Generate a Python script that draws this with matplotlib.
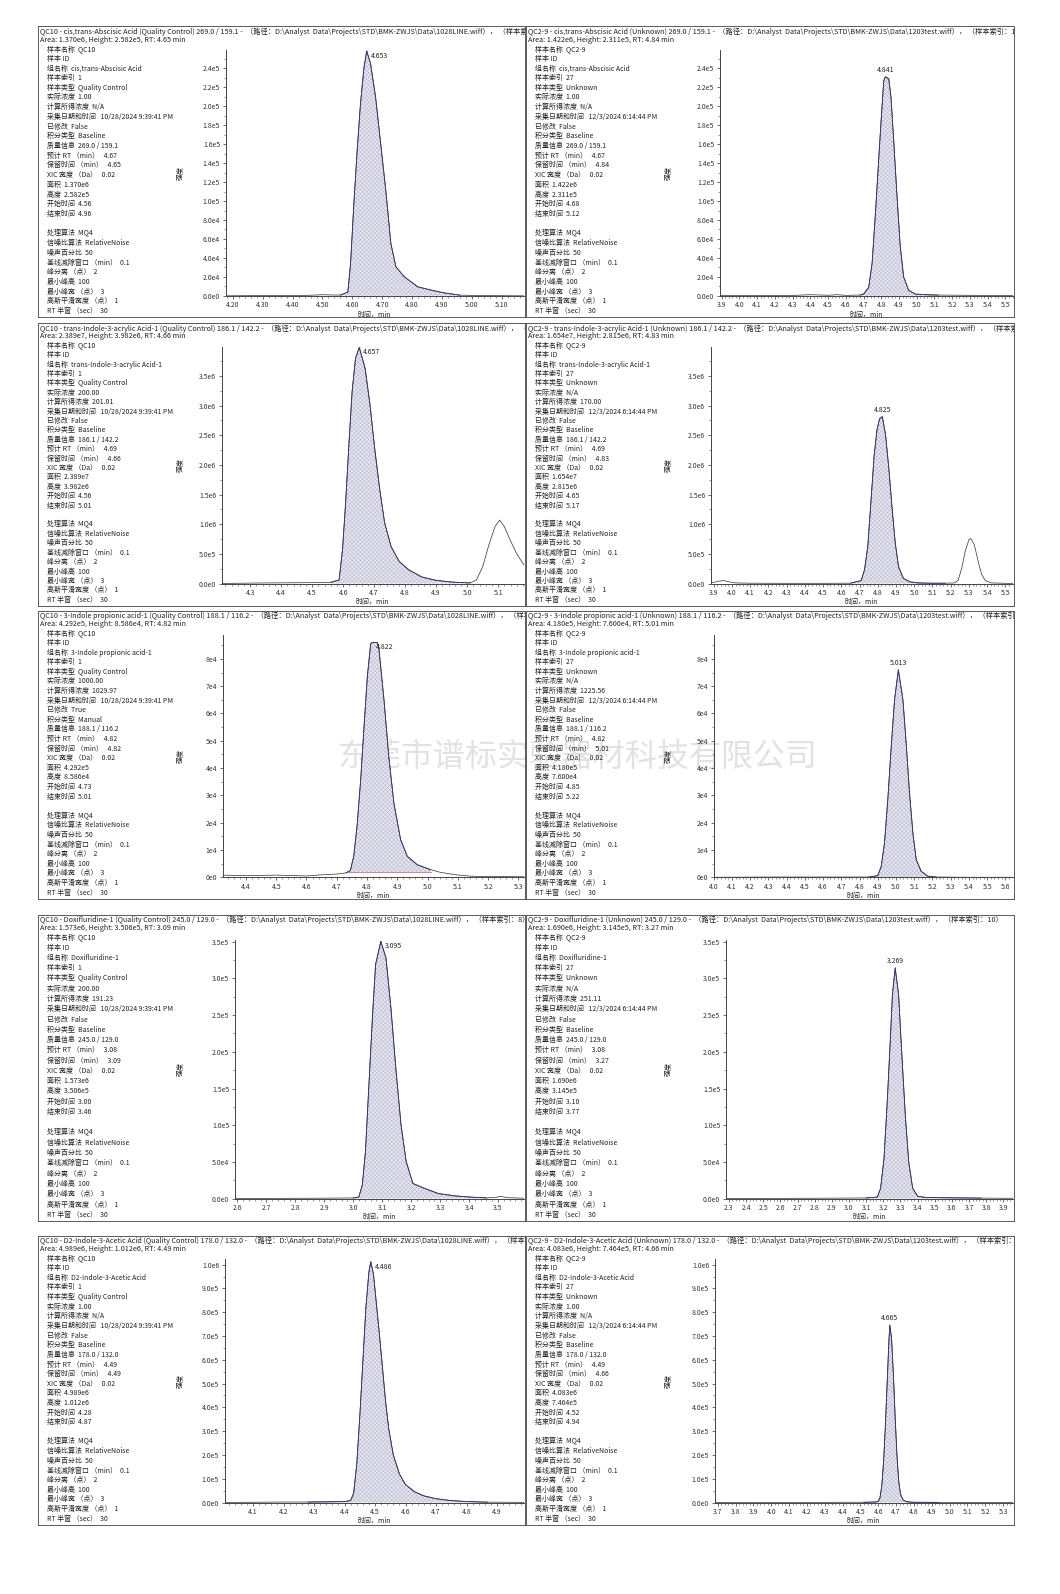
import matplotlib
matplotlib.use('Agg')
import matplotlib.pyplot as plt
import numpy as np
from matplotlib.ticker import (MultipleLocator, AutoMinorLocator,
                               FuncFormatter, FormatStrFormatter)

plt.rcParams['font.family'] = ['Noto Sans CJK SC', 'DejaVu Sans']
plt.rcParams['hatch.linewidth'] = 0.3
plt.rcParams['hatch.color'] = '#b0b0c6'

W, H = 1060, 1594
S = 1594 / 1568  # layout below was measured on a 1568 px high view

# ---- text data (rows = components, columns = QC10 / QC2-9) ----
SAMPLE_NAME = ['QC10', 'QC2-9']
SAMPLE_TYPE = ['Quality Control', 'Unknown']
SAMPLE_INDEX = ['1', '27']
HEADER_INDEX = ['8', '10']
WIFF = ['1028LINE.wiff', '1203test.wiff']
ACQ_TIME = ['10/28/2024 9:39:41 PM', '12/3/2024 6:14:44 PM']

COMPONENTS = ['cis,trans-Abscisic Acid', 'trans-Indole-3-acrylic Acid-1',
              '3-Indole propionic acid-1', 'Doxifluridine-1',
              'D2-Indole-3-Acetic Acid']
MASS_INFO = ['269.0 / 159.1', '186.1 / 142.2', '188.1 / 116.2',
             '245.0 / 129.0', '178.0 / 132.0']
EXPECTED_RT = ['4.67', '4.69', '4.82', '3.08', '4.49']

# panel order: 1L, 1R, 2L, 2R, ...
ACTUAL_CONC = ['1.00', '1.00', '200.00', 'N/A', '1000.00', 'N/A',
               '200.00', 'N/A', '1.00', '1.00']
CALC_CONC = ['N/A', 'N/A', '201.01', '170.00', '1029.97', '1225.56',
             '191.23', '251.11', 'N/A', 'N/A']
MODIFIED = ['False', 'False', 'False', 'False', 'True', 'False',
            'False', 'False', 'False', 'False']
INTEG_TYPE = ['Baseline', 'Baseline', 'Baseline', 'Baseline', 'Manual',
              'Baseline', 'Baseline', 'Baseline', 'Baseline', 'Baseline']
RT_MIN = ['4.65', '4.84', '4.66', '4.83', '4.82', '5.01', '3.09', '3.27',
          '4.49', '4.66']
AREA = ['1.370e6', '1.422e6', '2.389e7', '1.654e7', '4.292e5', '4.180e5',
        '1.573e6', '1.690e6', '4.989e6', '4.083e6']
HEIGHT = ['2.582e5', '2.311e5', '3.982e6', '2.815e6', '8.586e4', '7.600e4',
          '3.506e5', '3.145e5', '1.012e6', '7.464e5']
START = [4.56, 4.68, 4.56, 4.65, 4.73, 4.85, 3.00, 3.10, 4.28, 4.52]
END = [4.96, 5.12, 5.01, 5.17, 5.01, 5.22, 3.46, 3.77, 4.87, 4.94]
APEX_LABEL = ['4.653', '4.841', '4.657', '4.825', '4.822', '5.013',
              '3.095', '3.269', '4.486', '4.665']
BASE_LEVEL = [0, 0, 0, 0, 1800, 0, 0, 0, 0, 0]

PARAM_LINES = ['处理算法  MQ4', '信噪比算法  RelativeNoise', '噪声百分比  50',
               '基线减除窗口 （min）  0.1', '峰分离 （点）  2', '最小峰高  100',
               '最小峰宽 （点）  3', '高斯平滑宽度 （点）  1', 'RT 半窗 （sec）  30']
WATERMARK = '东莞市谱标实验器材科技有限公司'

# ---- chromatogram traces ----
ABA_QC_T = [4.17, 4.30, 4.45, 4.50, 4.53, 4.56, 4.585, 4.594, 4.605, 4.616,
            4.627, 4.639, 4.648, 4.661, 4.678, 4.695, 4.712, 4.729, 4.746,
            4.774, 4.819, 4.864, 4.909, 4.96, 5.02, 5.18]
ABA_QC_Y = [0, 300, 500, 1200, 900, 800, 4e3, 3.4e4, 9.7e4, 1.53e5, 2.02e5,
            2.41e5, 2.582e5, 2.45e5, 2.09e5, 1.6e5, 1.11e5, 5.5e4, 3.05e4,
            2.0e4, 9.5e3, 6e3, 3e3, 700, 300, 0]
ABA_U_T = [3.88, 4.10, 4.30, 4.40, 4.50, 4.55, 4.60, 4.68, 4.701, 4.729,
           4.748, 4.767, 4.786, 4.80, 4.814, 4.823, 4.842, 4.855, 4.87,
           4.889, 4.907, 4.926, 4.954, 4.992, 5.05, 5.12, 5.30, 5.55]
ABA_U_Y = [300, 500, 400, 1200, 600, 1200, 500, 800, 2e3, 9e3, 3.4e4, 8.7e4,
           1.46e5, 1.88e5, 2.27e5, 2.311e5, 2.29e5, 2.09e5, 1.64e5, 1.04e5,
           5.2e4, 2e4, 6e3, 1.8e3, 1.2e3, 800, 500, 300]

IAA1_QC_T = [4.20, 4.35, 4.50, 4.56, 4.587, 4.598, 4.608, 4.619, 4.629, 4.64,
             4.652, 4.671, 4.687, 4.702, 4.718, 4.734, 4.755, 4.781, 4.812,
             4.854, 4.896, 4.948, 5.01, 5.03, 5.05, 5.07, 5.09, 5.105, 5.12,
             5.14, 5.16, 5.19]
IAA1_QC_Y = [0, 1e4, 1.5e4, 2e4, 6e4, 5.7e5, 1.36e6, 2.38e6, 3.24e6, 3.8e6,
             3.982e6, 3.63e6, 3.0e6, 2.27e6, 1.59e6, 1.02e6, 6.2e5, 3.7e5,
             2.3e5, 1.1e5, 5.7e4, 2.5e4, 1e4, 6e4, 2.8e5, 6.5e5, 9.6e5,
             1.07e6, 9.6e5, 7.2e5, 5.0e5, 2.6e5]
IAA1_U_T = [3.88, 3.90, 3.93, 3.955, 3.98, 4.02, 4.10, 4.30, 4.50, 4.65,
            4.709, 4.727, 4.745, 4.762, 4.78, 4.796, 4.81, 4.825, 4.843,
            4.861, 4.879, 4.896, 4.914, 4.941, 4.977, 5.02, 5.10, 5.17, 5.22,
            5.24, 5.26, 5.28, 5.30, 5.31, 5.33, 5.35, 5.37, 5.39, 5.42, 5.55]
IAA1_U_Y = [1e4, 2e4, 4e4, 5e4, 3e4, 1e4, 5e3, 3e3, 3e3, 5e3, 5e4, 2.3e5,
            6.2e5, 1.36e6, 2.16e6, 2.6e6, 2.78e6, 2.815e6, 2.5e6, 1.93e6,
            1.25e6, 6.8e5, 2.8e5, 8.5e4, 2.8e4, 1e4, 5e3, 5e3, 1e4, 5e4,
            2.5e5, 5.5e5, 7.4e5, 7.6e5, 6.5e5, 3.8e5, 1.5e5, 5e4, 1e4, 0]

IPA_QC_T = [4.32, 4.40, 4.50, 4.60, 4.65, 4.70, 4.73, 4.745, 4.756, 4.767,
            4.779, 4.79, 4.801, 4.812, 4.817, 4.834, 4.839, 4.856, 4.872,
            4.889, 4.911, 4.933, 4.966, 5.01, 5.043, 5.099, 5.143, 5.20, 5.32]
IPA_QC_Y = [800, 600, 800, 500, 900, 1200, 1.6e3, 2.5e3, 7.7e3, 1.87e4,
            3.57e4, 5.5e4, 7.35e4, 8.55e4, 8.6e4, 8.6e4, 8.4e4, 6.5e4, 4.4e4,
            2.7e4, 1.38e4, 7.7e3, 4.6e3, 2.8e3, 1.8e3, 850, 400, 300, 200]
IPA_U_T = [4.00, 4.30, 4.60, 4.85, 4.90, 4.919, 4.937, 4.955, 4.974, 4.992,
           5.013, 5.038, 5.056, 5.074, 5.093, 5.111, 5.138, 5.175, 5.22,
           5.40, 5.65]
IPA_U_Y = [0, 100, 100, 100, 600, 4e3, 1.26e4, 2.84e4, 4.8e4, 6.5e4, 7.6e4,
           6.5e4, 4.9e4, 3.1e4, 1.6e4, 6.5e3, 2.2e3, 400, 100, 0, 0]

DOX_QC_T = [2.59, 2.70, 2.80, 2.90, 3.00, 3.019, 3.031, 3.042, 3.054, 3.066,
            3.077, 3.095, 3.113, 3.13, 3.148, 3.165, 3.183, 3.206, 3.247,
            3.294, 3.352, 3.411, 3.46, 3.49, 3.51, 3.53, 3.59]
DOX_QC_Y = [0, 200, 300, 500, 800, 2e3, 1.8e4, 6.4e4, 1.55e5, 2.46e5,
            3.19e5, 3.506e5, 3.28e5, 2.6e5, 1.73e5, 1.0e5, 5.0e4, 2.05e4,
            1.37e4, 6.8e3, 3.6e3, 1.8e3, 900, 1500, 3e3, 1200, 500]
DOX_U_T = [2.28, 2.50, 2.70, 2.90, 3.10, 3.165, 3.184, 3.204, 3.224, 3.243,
           3.253, 3.269, 3.289, 3.308, 3.328, 3.348, 3.371, 3.401, 3.45,
           3.60, 3.77, 3.96]
DOX_U_Y = [0, 200, 300, 500, 800, 2e3, 1.4e4, 5.5e4, 1.37e5, 2.28e5, 2.78e5,
           3.145e5, 2.78e5, 1.96e5, 1.14e5, 5.0e4, 1.4e4, 3e3, 1.4e3, 1e3,
           600, 300]

D2IAA_QC_T = [4.00, 4.10, 4.20, 4.28, 4.35, 4.40, 4.42, 4.43, 4.44, 4.45,
              4.46, 4.47, 4.48, 4.486, 4.495, 4.505, 4.515, 4.525, 4.535,
              4.545, 4.56, 4.58, 4.60, 4.63, 4.66, 4.70, 4.75, 4.80, 4.87,
              4.92, 4.99]
D2IAA_QC_Y = [0, 1e3, 2e3, 2e3, 3e3, 4e3, 8e3, 4e4, 1.6e5, 3.6e5, 5.9e5,
              8.2e5, 9.7e5, 1.012e6, 9.6e5, 8.3e5, 7.0e5, 5.6e5, 4.2e5,
              3.1e5, 2.0e5, 1.2e5, 7.5e4, 4.5e4, 2.8e4, 1.6e4, 8e3, 4e3,
              1.5e3, 1e3, 500]
D2IAA_U_T = [3.67, 3.90, 4.20, 4.40, 4.52, 4.58, 4.60, 4.61, 4.62, 4.63,
             4.64, 4.65, 4.66, 4.665, 4.675, 4.685, 4.695, 4.705, 4.715,
             4.725, 4.74, 4.76, 4.80, 4.94, 5.10, 5.36]
D2IAA_U_Y = [0, 500, 500, 800, 1e3, 2e3, 4e3, 2e4, 7e4, 1.7e5, 3.2e5, 5.0e5,
             6.8e5, 7.464e5, 6.9e5, 5.4e5, 3.6e5, 2.0e5, 9e4, 3.5e4, 1e4,
             3e3, 1e3, 500, 200, 0]

# ---- layout (pixels on the 1568 px high view) ----
COL_X = [(37, 516), (517, 997)]
ROW_Y = [(26, 312), (318, 596), (601, 884), (900, 1201), (1216, 1500)]
AX_LEFT = [(222, 708), (218, 699), (219, 702), (231, 714), (221, 703)]
AX_TB = [(49, 291), (341, 574), (625, 863), (925, 1179), (1238, 1478)]
XLIMS = [[(4.176, 5.173), (3.889, 5.54)],
         [(4.208, 5.182), (3.883, 5.539)],
         [(4.323, 5.317), (4.0, 5.639)],
         [(2.591, 3.588), (2.282, 3.953)],
         [(4.007, 4.987), (3.683, 5.353)]]
X_DEC = [(2, 1), (1, 1), (1, 1), (1, 1), (1, 1)]
YLIM_TOP = [2.595e5, 3.995e6, 8.86e4, 3.52e5, 1.026e6]
Y_STEP = [2e4, 5e5, 1e4, 5e4, 1e5]
Y_DEC = [1, 1, 0, 1, 1]


def rect(x0, y0, x1, y1):
    """Pixel box (top-left origin) -> figure fraction [l, b, w, h]."""
    return [x0 * S / W, 1 - y1 * S / H, (x1 - x0) * S / W, (y1 - y0) * S / H]


def sci_formatter(dec):
    def fmt(v, pos):
        if abs(v) < 1e-9:
            return f'{0:.{dec}f}e0'
        e = int(np.floor(np.log10(abs(v)) + 1e-9))
        m = v / 10 ** e
        return f'{m:.{dec}f}e{e}'
    return FuncFormatter(fmt)


def main():
    traces = [(ABA_QC_T, ABA_QC_Y), (ABA_U_T, ABA_U_Y),
              (IAA1_QC_T, IAA1_QC_Y), (IAA1_U_T, IAA1_U_Y),
              (IPA_QC_T, IPA_QC_Y), (IPA_U_T, IPA_U_Y),
              (DOX_QC_T, DOX_QC_Y), (DOX_U_T, DOX_U_Y),
              (D2IAA_QC_T, D2IAA_QC_Y), (D2IAA_U_T, D2IAA_U_Y)]

    fig = plt.figure(figsize=(W / 100, H / 100), dpi=100)
    fig.text(568 * S / W, 1 - 745 * S / H, WATERMARK, fontsize=23,
             color='#e2e2e2', fontweight='light', ha='center', va='center',
             zorder=-1)

    for r in range(5):
        top, bot = ROW_Y[r]
        for c in range(2):
            k = 2 * r + c
            x0, x1 = COL_X[c]

            # panel frame with header and info block
            bg = fig.add_axes(rect(x0, top, x1, bot))
            bg.set_xlim(x0, x1)
            bg.set_ylim(bot, top)
            bg.set_xticks([])
            bg.set_yticks([])
            bg.set_facecolor('none')
            for s in bg.spines.values():
                s.set_color('#5a5a5a')
                s.set_linewidth(0.7)

            header = (f'{SAMPLE_NAME[c]} - {COMPONENTS[r]} ({SAMPLE_TYPE[c]}) '
                      f'{MASS_INFO[r]} -  （路径：D:\\Analyst  Data\\Projects'
                      f'\\STD\\BMK-ZWJS\\Data\\{WIFF[c]}）， '
                      f'（样本索引：{HEADER_INDEX[c]}）')
            bg.text(x0 + 2, top + 5, header, fontsize=5.2, color='#222222',
                    ha='left', va='center', clip_on=True)
            bg.text(x0 + 2, top + 13,
                    f'Area: {AREA[k]}, Height: {HEIGHT[k]}, RT: {RT_MIN[k]} min',
                    fontsize=5.2, color='#222222', ha='left', va='center',
                    clip_on=True)

            lines = [f'样本名称  {SAMPLE_NAME[c]}', '样本 ID',
                     f'组名称  {COMPONENTS[r]}',
                     f'样本索引  {SAMPLE_INDEX[c]}',
                     f'样本类型  {SAMPLE_TYPE[c]}',
                     f'实际浓度  {ACTUAL_CONC[k]}',
                     f'计算所得浓度  {CALC_CONC[k]}',
                     f'采集日期和时间   {ACQ_TIME[c]}',
                     f'已修改  {MODIFIED[k]}',
                     f'积分类型  {INTEG_TYPE[k]}',
                     f'质量信息  {MASS_INFO[r]}',
                     f'预计 RT （min）   {EXPECTED_RT[r]}',
                     f'保留时间 （min）   {RT_MIN[k]}',
                     'XIC 宽度 （Da）   0.02',
                     f'面积  {AREA[k]}', f'高度  {HEIGHT[k]}',
                     f'开始时间  {START[k]:.2f}', f'结束时间  {END[k]:.2f}',
                     ''] + PARAM_LINES
            i_top, i_bot = top + 22, bot - 6
            step = (i_bot - i_top) / (len(lines) - 1)
            for i, s in enumerate(lines):
                bg.text(x0 + 9, i_top + i * step, s, fontsize=5,
                        color='#222222', ha='left', va='center')

            at, ab = AX_TB[r]
            bg.text(x0 + 140, (at + ab) / 2, '强度', fontsize=5,
                    color='#222222', rotation=90, ha='center', va='center')

            # chromatogram
            axl = AX_LEFT[r][c]
            ax = fig.add_axes(rect(axl, at, x1 - 1, ab))
            ax.set_facecolor('none')
            t = np.array(traces[k][0])
            y = np.array(traces[k][1])
            m = (t >= START[k] - 1e-9) & (t <= END[k] + 1e-9)
            ax.plot(t, y, color='#404040', lw=0.55, zorder=2)
            ax.fill_between(t[m], y[m], BASE_LEVEL[k], facecolor='#e6e6f1',
                            edgecolor='#b0b0c6', hatch='x' * 8, linewidth=0,
                            zorder=1)
            ax.plot(t[m], y[m], color='#34346e', lw=0.6, zorder=3)
            ax.plot([START[k], END[k]], [BASE_LEVEL[k]] * 2, color='#e07070',
                    lw=0.6, zorder=2)

            j = np.argmax(y[m])
            apex = (t[m][j], y[m][j])
            if c == 0:
                ax.annotate(APEX_LABEL[k], xy=apex, xytext=(4, -5),
                            textcoords='offset pixels', fontsize=5,
                            color='#222222', ha='left', va='center',
                            arrowprops=dict(arrowstyle='-', lw=0.4,
                                            color='#555555', shrinkA=0,
                                            shrinkB=0))
            else:
                ax.annotate(APEX_LABEL[k], xy=apex, xytext=(0, 3),
                            textcoords='offset pixels', fontsize=5,
                            color='#222222', ha='center', va='bottom')

            ax.set_xlim(*XLIMS[r][c])
            ax.set_ylim(0, YLIM_TOP[r])
            for s in ['top', 'right']:
                ax.spines[s].set_visible(False)
            for s in ['left', 'bottom']:
                ax.spines[s].set_color('#444444')
                ax.spines[s].set_linewidth(0.7)
            ax.xaxis.set_major_locator(MultipleLocator(0.1))
            ax.xaxis.set_minor_locator(AutoMinorLocator(5))
            ax.yaxis.set_major_locator(MultipleLocator(Y_STEP[r]))
            ax.yaxis.set_minor_locator(AutoMinorLocator(2))
            ax.xaxis.set_major_formatter(
                FormatStrFormatter(f'%.{X_DEC[r][c]}f'))
            ax.yaxis.set_major_formatter(sci_formatter(Y_DEC[r]))
            ax.tick_params(which='major', direction='out', length=2.5,
                           width=0.5, labelsize=5, pad=1.5, colors='#333333')
            ax.tick_params(which='minor', direction='out', length=1.2,
                           width=0.4, color='#444444')
            ax.set_xlabel('时间，min', fontsize=5, color='#222222', labelpad=1)

    fig.savefig('out.png', dpi=100)


if __name__ == '__main__':
    main()
